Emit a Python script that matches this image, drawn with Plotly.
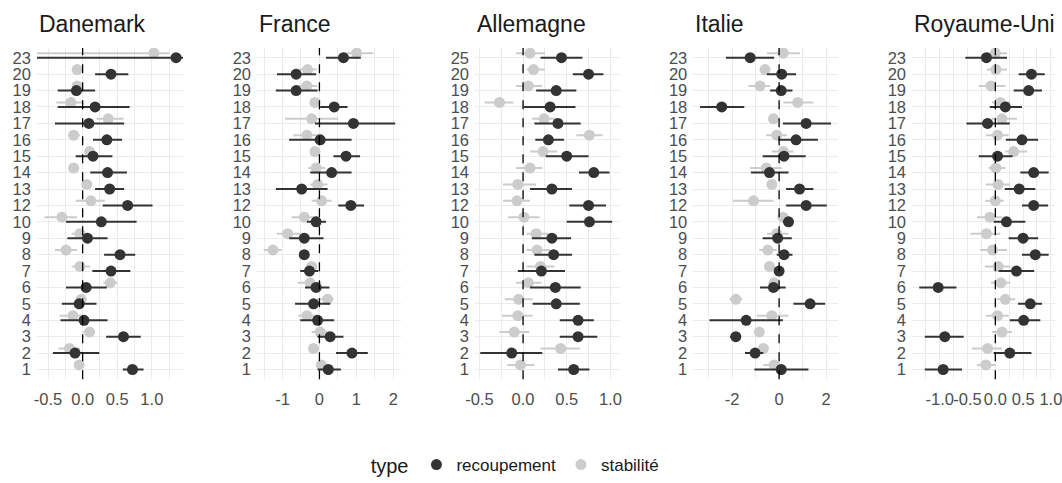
import plotly.graph_objects as go

# ---------------- data ----------------
countries = ["Danemark", "France", "Allemagne", "Italie", "Royaume-Uni"]

cats_std = ["23", "20", "19", "18", "17", "16", "15", "14", "13", "12",
            "10", "9", "8", "7", "6", "5", "4", "3", "2", "1"]
cats_de = ["25", "20", "19", "18", "17", "16", "15", "14", "13", "12",
           "10", "9", "8", "7", "6", "5", "4", "3", "2", "1"]

# Danemark
dk_rec = [1.35, 0.41, -0.09, 0.18, 0.09, 0.35, 0.15, 0.36, 0.39, 0.65, 0.27, 0.07, 0.54, 0.41, 0.05, -0.05, 0.02, 0.59, -0.11, 0.72]
dk_rec_lo = [-0.9, 0.18, -0.36, -0.36, -0.40, 0.15, -0.10, 0.11, 0.18, 0.29, -0.24, -0.22, 0.31, 0.14, -0.24, -0.30, -0.32, 0.34, -0.43, 0.58]
dk_rec_hi = [1.6, 0.66, 0.18, 0.68, 0.60, 0.57, 0.43, 0.64, 0.60, 1.01, 0.78, 0.36, 0.76, 0.69, 0.35, 0.20, 0.36, 0.84, 0.24, 0.88]
dk_stab = [1.03, -0.08, -0.08, -0.17, 0.37, -0.13, 0.10, -0.13, 0.06, 0.12, -0.30, -0.04, -0.24, -0.04, 0.40, -0.02, -0.14, 0.10, -0.19, -0.05]
dk_stab_lo = [-0.9, -0.13, -0.13, -0.38, 0.20, -0.21, 0.03, -0.20, -0.01, -0.10, -0.55, -0.16, -0.40, -0.16, 0.30, -0.09, -0.33, 0.01, -0.35, -0.11]
dk_stab_hi = [1.25, -0.03, -0.03, 0.01, 0.59, -0.04, 0.17, -0.05, 0.13, 0.32, -0.08, 0.08, -0.08, 0.11, 0.50, 0.05, 0.01, 0.18, -0.04, 0.01]

# France
fr_rec = [0.65, -0.63, -0.63, 0.40, 0.92, 0.02, 0.72, 0.33, -0.48, 0.85, -0.09, -0.41, -0.41, -0.27, -0.09, -0.16, -0.05, 0.29, 0.88, 0.24]
fr_rec_lo = [0.18, -1.15, -1.18, 0.02, -0.12, -0.82, 0.38, -0.25, -1.18, 0.51, -0.34, -0.82, -0.52, -0.52, -0.39, -0.66, -0.52, -0.05, 0.45, -0.05]
fr_rec_hi = [1.12, -0.09, -0.05, 0.76, 2.05, 0.87, 1.10, 0.87, 0.22, 1.21, 0.18, 0.11, -0.30, -0.03, 0.27, 0.29, 0.40, 0.65, 1.31, 0.58]
fr_stab = [1.01, -0.32, -0.34, -0.12, -0.21, -0.34, -0.12, -0.09, -0.05, 0.06, -0.41, -0.86, -1.26, -0.21, -0.25, 0.22, -0.34, 0.02, -0.16, 0.05]
fr_stab_lo = [0.65, -0.57, -0.59, -0.25, -0.93, -0.70, -0.25, -0.30, -0.25, -0.21, -0.75, -1.15, -1.51, -0.34, -0.59, -0.07, -0.57, -0.21, -0.30, -0.09]
fr_stab_hi = [1.46, -0.07, -0.07, 0.02, 0.51, 0.02, 0.01, 0.15, 0.22, 0.33, -0.07, -0.52, -1.02, -0.07, 0.06, 0.38, -0.07, 0.20, -0.02, 0.20]

# Allemagne
de_rec = [0.44, 0.75, 0.38, 0.31, 0.40, 0.29, 0.50, 0.81, 0.33, 0.75, 0.76, 0.33, 0.35, 0.21, 0.37, 0.38, 0.63, 0.63, -0.13, 0.58]
de_rec_lo = [0.20, 0.57, 0.15, 0.01, 0.13, 0.14, 0.26, 0.64, 0.08, 0.53, 0.50, 0.10, 0.13, -0.06, 0.08, 0.11, 0.42, 0.42, -0.49, 0.40]
de_rec_hi = [0.68, 0.92, 0.61, 0.60, 0.66, 0.47, 0.75, 0.99, 0.56, 0.95, 1.02, 0.55, 0.56, 0.48, 0.66, 0.65, 0.81, 0.85, 0.22, 0.76]
de_stab = [0.08, 0.12, 0.06, -0.27, 0.24, 0.76, 0.23, 0.08, -0.06, -0.07, 0.01, 0.15, 0.16, 0.20, 0.06, -0.05, -0.06, -0.10, 0.43, -0.03]
de_stab_lo = [-0.08, 0.04, -0.08, -0.44, 0.10, 0.61, 0.08, -0.08, -0.23, -0.23, -0.17, 0.04, 0.04, 0.04, -0.08, -0.21, -0.24, -0.27, 0.20, -0.18]
de_stab_hi = [0.25, 0.25, 0.22, -0.11, 0.38, 0.91, 0.39, 0.22, 0.15, 0.08, 0.19, 0.29, 0.31, 0.36, 0.21, 0.11, 0.11, 0.07, 0.65, 0.13]

# Italie
it_rec = [-1.23, 0.11, 0.09, -2.44, 1.15, 0.72, 0.21, -0.41, 0.87, 1.15, 0.40, -0.06, 0.21, 0.00, -0.24, 1.32, -1.40, -1.84, -1.02, 0.09]
it_rec_lo = [-2.26, -0.52, -0.38, -3.36, 0.16, -0.03, -0.70, -1.20, 0.30, 0.30, 0.16, -0.70, -0.10, -0.17, -0.81, 0.61, -2.96, -2.09, -1.45, -1.05]
it_rec_hi = [-0.21, 0.72, 0.57, -1.48, 2.21, 1.65, 1.13, 0.40, 1.46, 2.03, 0.61, 0.54, 0.57, 0.18, 0.28, 1.96, 0.16, -1.62, -0.67, 1.25]
it_stab = [0.18, -0.60, -0.81, 0.79, -0.24, -0.10, 0.18, -0.55, -0.31, -1.09, 0.16, -0.10, -0.48, -0.41, -0.21, -1.84, -0.31, -0.84, -0.67, -0.21]
it_stab_lo = [-0.52, -0.81, -1.30, 0.18, -0.45, -0.55, -0.31, -1.23, -0.52, -1.97, -0.03, -0.52, -0.84, -0.64, -0.45, -2.11, -0.95, -1.02, -0.88, -0.67]
it_stab_hi = [0.89, -0.38, -0.38, 1.46, -0.03, 0.33, 0.61, 0.11, -0.10, -0.24, 0.40, 0.40, -0.10, -0.20, 0.04, -1.56, 0.40, -0.67, -0.45, 0.18]

# Royaume-Uni
uk_rec = [-0.16, 0.65, 0.60, 0.18, -0.14, 0.48, 0.04, 0.69, 0.43, 0.69, 0.20, 0.50, 0.72, 0.38, -1.03, 0.63, 0.51, -0.91, 0.26, -0.94]
uk_rec_lo = [-0.54, 0.42, 0.33, -0.10, -0.52, 0.19, -0.30, 0.45, 0.17, 0.48, -0.03, 0.24, 0.48, 0.06, -1.37, 0.41, 0.26, -1.27, -0.03, -1.27]
uk_rec_hi = [0.21, 0.89, 0.84, 0.48, 0.26, 0.77, 0.31, 0.96, 0.72, 0.95, 0.54, 0.77, 0.96, 0.70, -0.70, 0.84, 0.81, -0.57, 0.65, -0.60]
uk_stab = [0.00, 0.01, -0.08, 0.09, 0.12, 0.04, 0.33, 0.01, 0.05, 0.00, -0.10, -0.16, -0.05, 0.05, 0.10, 0.18, 0.04, 0.12, -0.14, -0.17]
uk_stab_lo = [-0.15, -0.15, -0.30, -0.06, -0.06, -0.17, 0.18, -0.12, -0.17, -0.18, -0.33, -0.45, -0.27, -0.19, -0.08, 0.03, -0.17, -0.06, -0.42, -0.33]
uk_stab_hi = [0.21, 0.21, 0.18, 0.27, 0.39, 0.24, 0.57, 0.18, 0.27, 0.15, 0.12, 0.09, 0.21, 0.27, 0.27, 0.36, 0.24, 0.30, 0.12, 0.00]

# x tick labels
dk_ticks = [-0.5, 0.0, 0.5, 1.0]
dk_labels = ["-0.5", "0.0", "0.5", "1.0"]
fr_ticks = [-1, 0, 1, 2]
fr_labels = ["-1", "0", "1", "2"]
de_ticks = [-0.5, 0.0, 0.5, 1.0]
de_labels = ["-0.5", "0.0", "0.5", "1.0"]
it_ticks = [-2, 0, 2]
it_labels = ["-2", "0", "2"]
uk_ticks = [-1.0, -0.5, 0.0, 0.5, 1.0]
uk_labels = ["-1.0", "-0.5", "0.0", "0.5", "1.0"]

type_names = ["recoupement", "stabilité"]

# ---------------- layout helpers ----------------
panels = [
    (cats_std, dk_rec, dk_rec_lo, dk_rec_hi, dk_stab, dk_stab_lo, dk_stab_hi, dk_ticks, dk_labels, 0.25),
    (cats_std, fr_rec, fr_rec_lo, fr_rec_hi, fr_stab, fr_stab_lo, fr_stab_hi, fr_ticks, fr_labels, 0.5),
    (cats_de, de_rec, de_rec_lo, de_rec_hi, de_stab, de_stab_lo, de_stab_hi, de_ticks, de_labels, 0.25),
    (cats_std, it_rec, it_rec_lo, it_rec_hi, it_stab, it_stab_lo, it_stab_hi, it_ticks, it_labels, 1.0),
    (cats_std, uk_rec, uk_rec_lo, uk_rec_hi, uk_stab, uk_stab_lo, uk_stab_hi, uk_ticks, uk_labels, 0.25),
]
domains = [(0.0348, 0.1723), (0.2420, 0.3773), (0.4473, 0.5838), (0.6528, 0.7894), (0.8588, 0.9937)]
xranges = [(-0.66, 1.45), (-1.69, 2.20), (-0.55, 1.11), (-3.65, 2.52), (-1.50, 1.08)]
ydom = (0.2064, 0.8998)

DARK = "#333333"
LIGHT = "#CCCCCC"
GRID = "#EBEBEB"
FONT = "Liberation Sans, Arial, sans-serif"
GRAY_OFF = 0.28

fig = go.Figure()
layout = {}
annotations = []
shapes = []

for k, (cats, rec, rlo, rhi, stab, slo, shi, tv, tt, minor_dt) in enumerate(panels):
    n = len(cats)
    pos = [n - 1 - i for i in range(n)]
    xa = "x" if k == 0 else f"x{k+1}"
    ya = "y" if k == 0 else f"y{k+1}"
    # stabilité (light) first, underneath
    fig.add_trace(go.Scatter(
        x=stab, y=[p + GRAY_OFF for p in pos], mode="markers",
        name=type_names[1], legendgroup=type_names[1], legendrank=2,
        showlegend=(k == 0),
        marker=dict(color=LIGHT, size=11),
        error_x=dict(type="data", symmetric=False,
                     array=[h - v for h, v in zip(shi, stab)],
                     arrayminus=[v - l for v, l in zip(stab, slo)],
                     color=LIGHT, thickness=2, width=0),
        xaxis=xa, yaxis=ya, cliponaxis=True,
    ))
    fig.add_trace(go.Scatter(
        x=rec, y=pos, mode="markers",
        name=type_names[0], legendgroup=type_names[0], legendrank=1,
        showlegend=(k == 0),
        marker=dict(color=DARK, size=11),
        error_x=dict(type="data", symmetric=False,
                     array=[h - v for h, v in zip(rhi, rec)],
                     arrayminus=[v - l for v, l in zip(rec, rlo)],
                     color=DARK, thickness=2, width=0),
        xaxis=xa, yaxis=ya, cliponaxis=True,
    ))

    xkey = "xaxis" if k == 0 else f"xaxis{k+1}"
    ykey = "yaxis" if k == 0 else f"yaxis{k+1}"
    layout[xkey] = dict(
        domain=list(domains[k]), anchor=ya, range=list(xranges[k]),
        tickmode="array", tickvals=tv, ticktext=tt, tickangle=0,
        showgrid=True, gridcolor=GRID, gridwidth=1.1,
        minor=dict(dtick=minor_dt, tick0=0, showgrid=True, gridcolor=GRID, gridwidth=0.6, ticks=""),
        zeroline=False, showline=False, ticks="",
        tickfont=dict(size=16.5, color="#4D4D4D", family=FONT),
        ticklabelstandoff=8, ticklabeloverflow="allow", automargin=False, fixedrange=True,
    )
    layout[ykey] = dict(
        domain=list(ydom), anchor=xa, range=[-0.6, n - 1 + 0.6],
        tickmode="array", tickvals=pos, ticktext=cats,
        showgrid=True, gridcolor=GRID, gridwidth=1.1,
        zeroline=False, showline=False, ticks="",
        tickfont=dict(size=16.5, color="#4D4D4D", family=FONT),
        ticklabelstandoff=5, automargin=False, fixedrange=True,
    )
    shapes.append(dict(type="line", xref=xa, yref=f"{ya} domain",
                       x0=0, x1=0, y0=0, y1=1,
                       line=dict(color="black", width=1.3, dash="dash"), layer="above"))
    annotations.append(dict(text=countries[k], xref="paper", yref="paper",
                            x=domains[k][0], y=0.950, xanchor="left", yanchor="middle",
                            showarrow=False, font=dict(size=23, color="#1A1A1A", family=FONT)))

fig.update_layout(
    **layout,
    width=1062, height=483,
    margin=dict(l=0, r=0, t=0, b=0),
    paper_bgcolor="white", plot_bgcolor="white",
    font=dict(family=FONT, color="#1A1A1A"),
    annotations=annotations, shapes=shapes,
    legend=dict(orientation="h", x=0.486, y=0.027, xanchor="center", yanchor="middle",
                title=dict(text="type", font=dict(size=20, color="#1A1A1A"), side="left"),
                font=dict(size=17, color="#1A1A1A"), bgcolor="rgba(0,0,0,0)", itemwidth=30),
    showlegend=True,
)

fig.write_html("out.html", config={"displayModeBar": False},
               post_script="document.body.style.margin='0';")
